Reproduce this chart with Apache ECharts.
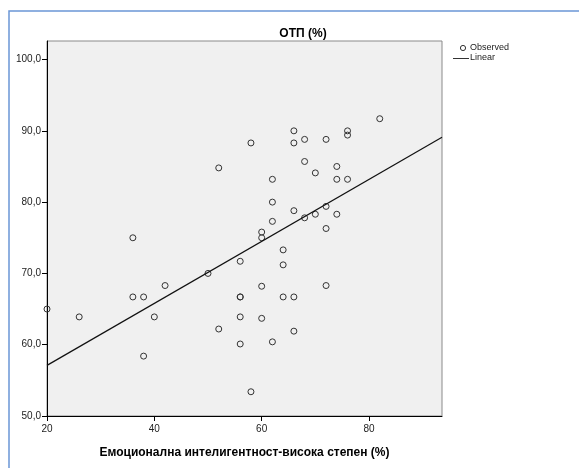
<!DOCTYPE html>
<html>
<head>
<meta charset="utf-8">
<script src="https://cdn.jsdelivr.net/npm/echarts@6/dist/echarts.min.js"></script>
<style>
html,body{margin:0;padding:0;background:#fff;}
#chart{width:579px;height:468px;}
</style>
</head>
<body>
<div id="chart"></div>
<script>
// Data
var titleText = 'ОТП (%)';
var xAxisName = 'Емоционална интелигентност-висока степен (%)';
var xValues = [20, 26, 36, 36, 38, 38, 40, 42, 50, 52, 52, 56, 56, 56, 56, 56, 58, 58, 60, 60, 60, 60, 62, 62, 62, 62, 64, 64, 64, 66, 66, 66, 66, 66, 68, 68, 68, 70, 70, 72, 72, 72, 72, 74, 74, 74, 76, 76, 76, 82];
var yValues = [65.0, 63.9, 75.0, 66.7, 66.7, 58.4, 63.9, 68.3, 70.0, 84.8, 62.2, 71.7, 66.7, 66.7, 63.9, 60.1, 88.3, 53.4, 75.8, 75.0, 68.2, 63.7, 83.2, 80.0, 77.3, 60.4, 73.3, 71.2, 66.7, 90.0, 88.3, 78.8, 66.7, 61.9, 88.8, 85.7, 77.8, 84.1, 78.3, 88.8, 79.4, 76.3, 68.3, 85.0, 83.2, 78.3, 90.0, 89.4, 83.2, 91.7];
var fitX = [20, 93.6];
var fitY = [57.1, 89.1];
var xTicks = [20, 40, 60, 80];
var yTicks = [50, 60, 70, 80, 90, 100];

var scatterData = xValues.map(function (x, i) { return [x, yValues[i]]; });
var lineData = fitX.map(function (x, i) { return [x, fitY[i]]; });

var FONT = '"Liberation Sans", Arial, sans-serif';
var chart = echarts.init(document.getElementById('chart'), null, {renderer: 'canvas'});
chart.setOption({
  animation: false,
  backgroundColor: '#ffffff',
  title: {
    text: titleText,
    left: 298, top: 23, textAlign: 'center',
    textStyle: {fontFamily: FONT, fontSize: 12, fontWeight: 'bold', color: '#000'}
  },
  grid: {
    left: 47, right: 137, top: 41, bottom: 52,
    show: true, backgroundColor: '#f0f0f0', borderColor: '#8a8a8a', borderWidth: 1
  },
  xAxis: {
    type: 'value', min: 20, max: 93.6,
    name: xAxisName, nameLocation: 'middle', nameGap: 31,
    nameTextStyle: {fontFamily: FONT, fontSize: 12, fontWeight: 'bold', color: '#000'},
    axisLine: {show: true, lineStyle: {color: '#000', width: 1}},
    axisTick: {show: true, length: 5, lineStyle: {color: '#000'}, customValues: xTicks},
    axisLabel: {fontFamily: FONT, fontSize: 10, color: '#222', margin: 8, customValues: xTicks},
    splitLine: {show: false}
  },
  yAxis: {
    type: 'value', min: 50, max: 102.6,
    axisLine: {show: true, lineStyle: {color: '#000', width: 1}},
    axisTick: {show: true, length: 5, lineStyle: {color: '#000'}, customValues: yTicks},
    axisLabel: {fontFamily: FONT, fontSize: 10, color: '#222', margin: 6, customValues: yTicks,
      formatter: function (v) { return v.toFixed(1).replace('.', ','); }},
    splitLine: {show: false}
  },
  series: [
    {
      name: 'Observed', type: 'scatter', data: scatterData,
      symbol: 'circle', symbolSize: 6,
      itemStyle: {color: 'rgba(0,0,0,0)', borderColor: '#333', borderWidth: 1, opacity: 1}
    },
    {
      name: 'Linear', type: 'line', data: lineData, showSymbol: false,
      lineStyle: {color: '#111', width: 1.2}
    }
  ],
  graphic: [
    {type: 'rect', shape: {x: 9, y: 11, width: 700, height: 600}, style: {fill: 'none', stroke: '#6b96d6', lineWidth: 1.5}, silent: true},
    {type: 'circle', shape: {cx: 463, cy: 48, r: 2.6}, style: {fill: 'none', stroke: '#333', lineWidth: 1}},
    {type: 'text', left: 470, top: 43, style: {text: 'Observed', font: '9px ' + FONT, fill: '#222'}},
    {type: 'line', shape: {x1: 453, y1: 58.5, x2: 469, y2: 58.5}, style: {stroke: '#333', lineWidth: 1}},
    {type: 'text', left: 470, top: 53, style: {text: 'Linear', font: '9px ' + FONT, fill: '#222'}}
  ]
});
</script>
</body>
</html>
